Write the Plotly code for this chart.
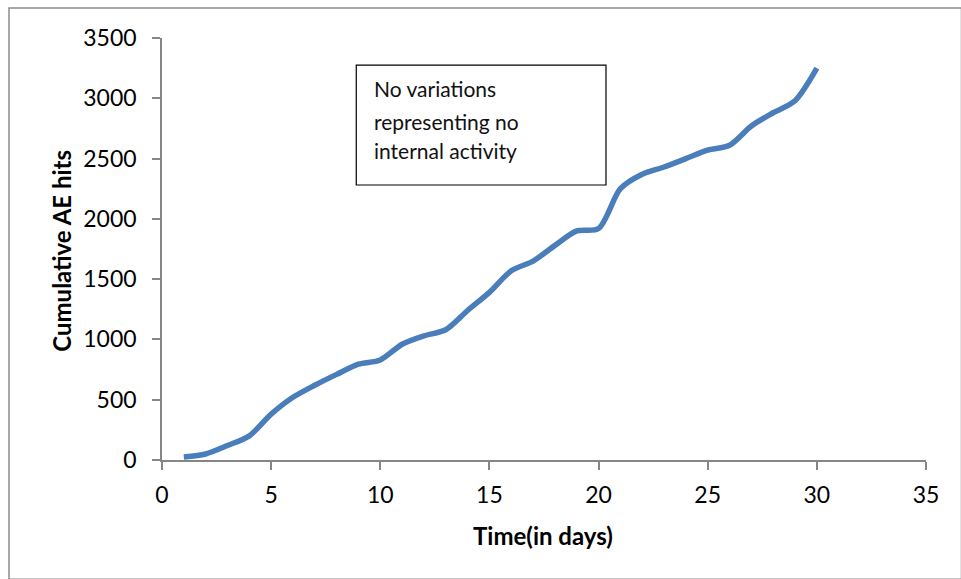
import plotly.graph_objects as go

# Cumulative acoustic-emission hits recorded each day
days = list(range(1, 31))
cumulative_hits = [25, 50, 120, 200, 380, 520, 620, 710, 795, 830,
                   960, 1030, 1080, 1240, 1390, 1570, 1650, 1780, 1900, 1920,
                   2250, 2370, 2430, 2500, 2570, 2610, 2770, 2880, 2980, 3250]

x_ticks = [0, 5, 10, 15, 20, 25, 30, 35]
y_ticks = [0, 500, 1000, 1500, 2000, 2500, 3000, 3500]

note_lines = ["No variations", "representing no", "internal activity"]
note_line_y = [3078, 2805, 2571]

AXIS_GREY = "#868686"
FONT = "Lato"

fig = go.Figure()
fig.add_trace(go.Scatter(
    x=days, y=cumulative_hits, mode="lines",
    line=dict(color="#4a7ebb", width=5.5, shape="spline", smoothing=0.8),
    showlegend=False, hoverinfo="x+y",
))

axis_common = dict(
    showgrid=False, zeroline=False, showline=True, linecolor=AXIS_GREY,
    linewidth=1.5, ticks="outside", ticklen=8, tickcolor=AXIS_GREY,
    tickwidth=1.5, tickfont=dict(family=FONT, size=23, color="#000000"),
    fixedrange=True,
)
fig.update_xaxes(range=[0, 35], tickvals=x_ticks, ticklabelstandoff=6, **axis_common)
fig.update_yaxes(range=[0, 3500], tickvals=y_ticks, ticklabelstandoff=11, **axis_common)

# Note box inside the plot area
fig.add_shape(type="rect", xref="x", yref="y", x0=8.9, x1=20.34, y0=2281, y1=3275,
              line=dict(color="#000000", width=1.2), fillcolor="white", layer="above")
for txt, yv in zip(note_lines, note_line_y):
    fig.add_annotation(xref="x", yref="y", x=9.64, y=yv, text=txt,
                       showarrow=False, xanchor="left", yanchor="middle",
                       font=dict(family=FONT, size=21, color="#111111"))

# Axis titles
fig.add_annotation(xref="paper", yref="paper", x=(62 - 162) / 764, y=(460.5 - 251) / 422.5,
                   text="<b>Cumulative AE hits</b>", textangle=-90, showarrow=False,
                   xanchor="center", yanchor="middle",
                   font=dict(family=FONT, size=24, color="#000000"))
fig.add_annotation(xref="paper", yref="paper", x=(543 - 162) / 764, y=-(536 - 460.5) / 422.5,
                   text="<b>Time(in days)</b>", showarrow=False,
                   xanchor="center", yanchor="middle",
                   font=dict(family=FONT, size=24, color="#000000"))

# Outer chart-area frame
L, T = 162, 38
W, H = 764, 422.5
def px(xp):
    return (xp - L) / W
def py(yp):
    return (T + H - yp) / H
fig.add_shape(type="rect", xref="paper", yref="paper",
              x0=px(9), x1=px(961.5), y0=py(580), y1=py(8),
              line=dict(color="#8c8c8c", width=1.5), layer="below")

fig.update_layout(
    width=961, height=579,
    margin=dict(l=162, r=35, t=38, b=118.5, pad=0),
    paper_bgcolor="white", plot_bgcolor="white",
    font=dict(family=FONT),
)

fig.write_html("out.html", config={"displayModeBar": False})
